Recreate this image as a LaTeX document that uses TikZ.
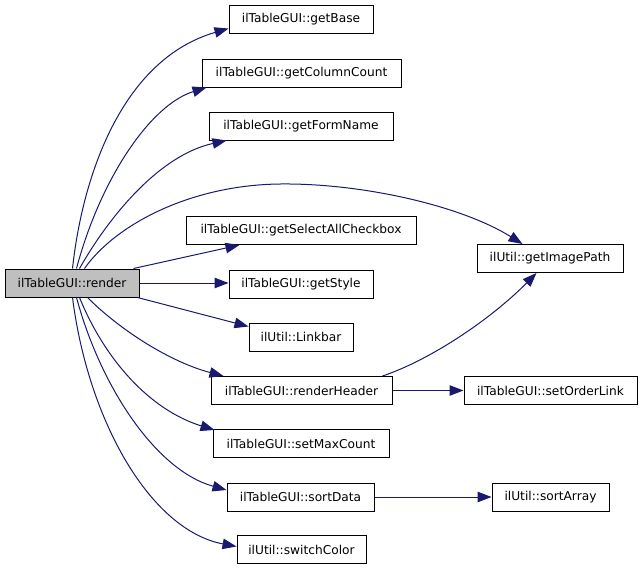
\documentclass[tikz,border=0pt]{standalone}
\usepackage{fontspec}
\setmainfont{DejaVu Sans}
\usetikzlibrary{arrows.meta,calc}
\definecolor{edgeblue}{HTML}{191970}
\definecolor{rendergray}{HTML}{BFBFBF}
\begin{document}
\begin{tikzpicture}[x=1pt,y=-1pt,
  box/.style={draw=black,line width=1pt,fill=white,inner sep=0pt,minimum height=28pt,font=\fontsize{12.2}{14}\selectfont},
  edge/.style={draw=edgeblue,line width=1pt,-{Triangle[length=14pt,width=10.5pt]}}]
\useasboundingbox (0,0) rectangle (643,571);
% nodes
\node[box,fill=rendergray,minimum width=134pt] (render) at (72,283) {ilTableGUI::render};
\node[box,minimum width=144pt] (getBase) at (301,19) {ilTableGUI::getBase};
\node[box,minimum width=199pt] (getColumnCount) at (301.5,73) {ilTableGUI::getColumnCount};
\node[box,minimum width=184pt] (getFormName) at (301,126) {ilTableGUI::getFormName};
\node[box,minimum width=230pt] (getSelectAllCheckbox) at (301,230.5) {ilTableGUI::getSelectAllCheckbox};
\node[box,minimum width=144pt] (getStyle) at (301,284) {ilTableGUI::getStyle};
\node[box,minimum width=104pt] (Linkbar) at (301,337) {ilUtil::Linkbar};
\node[box,minimum width=181pt] (renderHeader) at (301.5,390.5) {ilTableGUI::renderHeader};
\node[box,minimum width=176pt] (setMaxCount) at (301,443.5) {ilTableGUI::setMaxCount};
\node[box,minimum width=147pt] (sortData) at (300.5,497) {ilTableGUI::sortData};
\node[box,minimum width=129pt] (switchColor) at (301.5,549.5) {ilUtil::switchColor};
\node[box,minimum width=146pt] (getImagePath) at (550,258.5) {ilUtil::getImagePath};
\node[box,minimum width=173pt] (setOrderLink) at (550.5,390.5) {ilTableGUI::setOrderLink};
\node[box,minimum width=117pt] (sortArray) at (550.5,497) {ilUtil::sortArray};
% edges
\draw[edge] ($(render.north west)+(68,0)$) .. controls (82,180) and (120,60) .. ($(getBase.south west)+(0,-5)$);
\draw[edge] ($(render.north west)+(72,0)$) .. controls (100,180) and (150,105) .. ($(getColumnCount.south west)+(5,0)$);
\draw[edge] ($(render.north west)+(75,0)$) .. controls (110,215) and (160,155) .. ($(getFormName.south west)+(18,0)$);
\draw[edge] ($(render.north west)+(80,0)$) .. controls (115,225) and (190,185) .. (280,184) .. controls (360,183) and (460,205) .. ($(getImagePath.north west)+(46,0)$);
\draw[edge] ($(render.north east)+(-6,0)$) -- ($(getSelectAllCheckbox.south west)+(54,0)$);
\draw[edge] (render.east) -- (render.east -| getStyle.west);
\draw[edge] ($(render.south east)+(-2,0)$) -- ($(Linkbar.north west)+(0,4)$);
\draw[edge] ($(render.south west)+(83,0)$) .. controls (120,330) and (170,362) .. ($(renderHeader.north west)+(13,0)$);
\draw[edge] ($(render.south west)+(75,0)$) .. controls (105,360) and (150,410) .. ($(setMaxCount.north west)+(2,1)$);
\draw[edge] ($(render.south west)+(72,0)$) .. controls (100,385) and (155,470) .. ($(sortData.west)+(0,-7)$);
\draw[edge] ($(render.south west)+(68,0)$) .. controls (88,420) and (150,530) .. ($(switchColor.west)+(0,-3)$);
\draw[edge] ($(renderHeader.north east)+(-10,0)$) .. controls (430,360) and (490,320) .. ($(getImagePath.south west)+(60,0)$);
\draw[edge] (renderHeader.east) -- (setOrderLink.west);
\draw[edge] (sortData.east) -- (sortArray.west);
\end{tikzpicture}
\end{document}
